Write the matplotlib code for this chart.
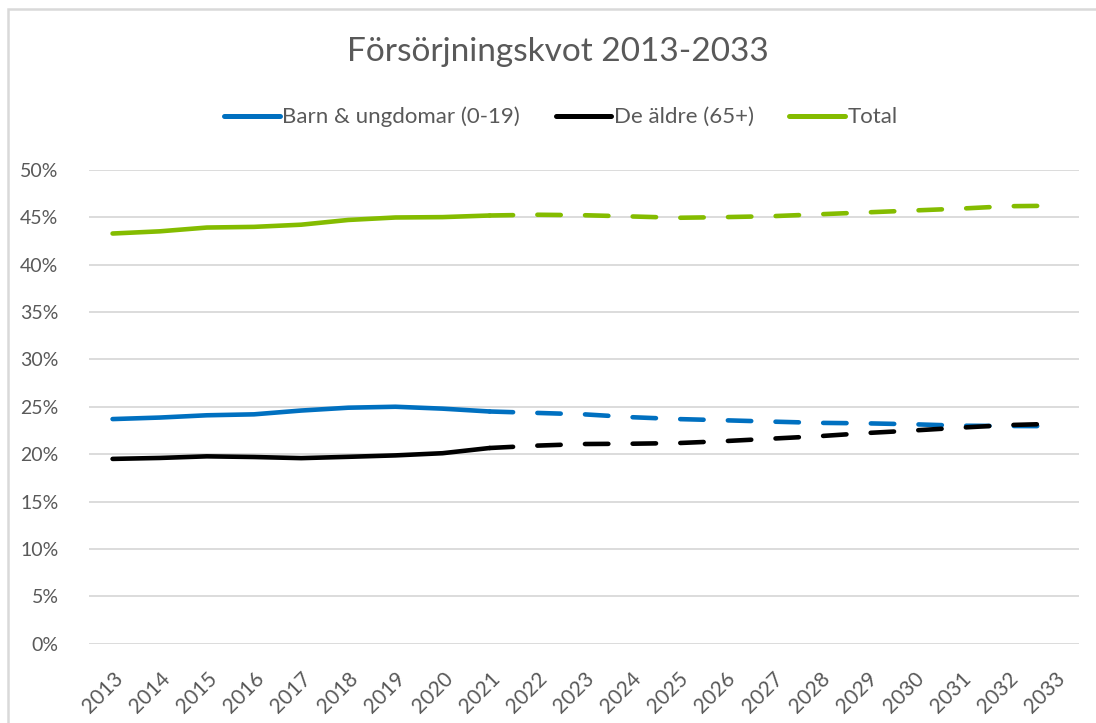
import matplotlib
matplotlib.use('Agg')
import matplotlib.pyplot as plt
from matplotlib.patches import Rectangle
from matplotlib.ticker import PercentFormatter

plt.rcParams['font.family'] = ['Lato', 'DejaVu Sans']

years = [str(y) for y in range(2013, 2034)]

# andelar i procent
barn = [23.7, 23.86, 24.1, 24.2, 24.6, 24.9, 25.0, 24.8, 24.5,
        24.35, 24.2, 23.9, 23.7, 23.57, 23.43, 23.3, 23.25, 23.15, 23.0, 22.97, 22.95]
aldre = [19.5, 19.6, 19.77, 19.7, 19.58, 19.72, 19.87, 20.1, 20.65,
         20.9, 21.07, 21.1, 21.17, 21.38, 21.64, 21.9, 22.23, 22.5, 22.8, 23.07, 23.2]
total = [43.27, 43.5, 43.9, 43.97, 44.2, 44.7, 44.96, 45.0, 45.17,
         45.25, 45.2, 45.07, 44.93, 45.0, 45.1, 45.3, 45.5, 45.7, 45.9, 46.15, 46.2]

labels = ['Barn & ungdomar (0-19)', 'De äldre (65+)', 'Total']
colors = ['#0070C0', '#000000', '#84BC00']
split = 8  # 2021: sista faktiska året

grey = '#595959'
lw = 3.3

fig = plt.figure(figsize=(10.96, 7.23), dpi=100)
ax = fig.add_axes([89/1096, 1-643.8/723, 990/1096, 474.1/723])

x = list(range(len(years)))
handles = []
for serie, col, lab in zip([barn, aldre, total], colors, labels):
    h, = ax.plot(x[:split+1], serie[:split+1], color=col, lw=lw,
                 solid_capstyle='round', label=lab)
    ax.plot(x[split:], serie[split:], color=col, lw=lw,
            linestyle=(0, (5.1, 5.3)), dash_capstyle='round')
    handles.append(h)

ax.set_xlim(-0.5, len(years) - 0.5)
ax.set_ylim(0, 50)
ax.set_yticks(range(0, 51, 5))
ax.yaxis.set_major_formatter(PercentFormatter(decimals=0))
ax.set_xticks(x)
ax.set_xticklabels(years, rotation=45, ha='right', rotation_mode='anchor')
ax.grid(axis='y', color='#D9D9D9', lw=1.3)
ax.set_axisbelow(True)
for s in ax.spines.values():
    s.set_visible(False)
ax.tick_params(axis='both', length=0, labelsize=14, colors=grey)
ax.tick_params(axis='x', labelsize=15, pad=18)
ax.tick_params(axis='y', pad=22)

fig.text(558/1096, 1-52/723, 'Försörjningskvot 2013-2033', ha='center', va='center',
         fontsize=24, color=grey)

leg = fig.legend(handles=handles, loc='center', bbox_to_anchor=(561/1096, 1-117/723),
                 ncol=3, frameon=False, fontsize=16, handlelength=2.5,
                 handletextpad=0.12, columnspacing=1.6, labelcolor=grey)
for l in leg.get_lines():
    l.set_linewidth(lw + 0.3)

border = Rectangle((7.5/1096, -0.1), 1.2, 0.1 + 1 - 9.5/723,
                   transform=fig.transFigure, fill=False,
                   edgecolor='#D9D9D9', lw=1.8)
fig.patches.append(border)

fig.savefig('out.png', dpi=100)
